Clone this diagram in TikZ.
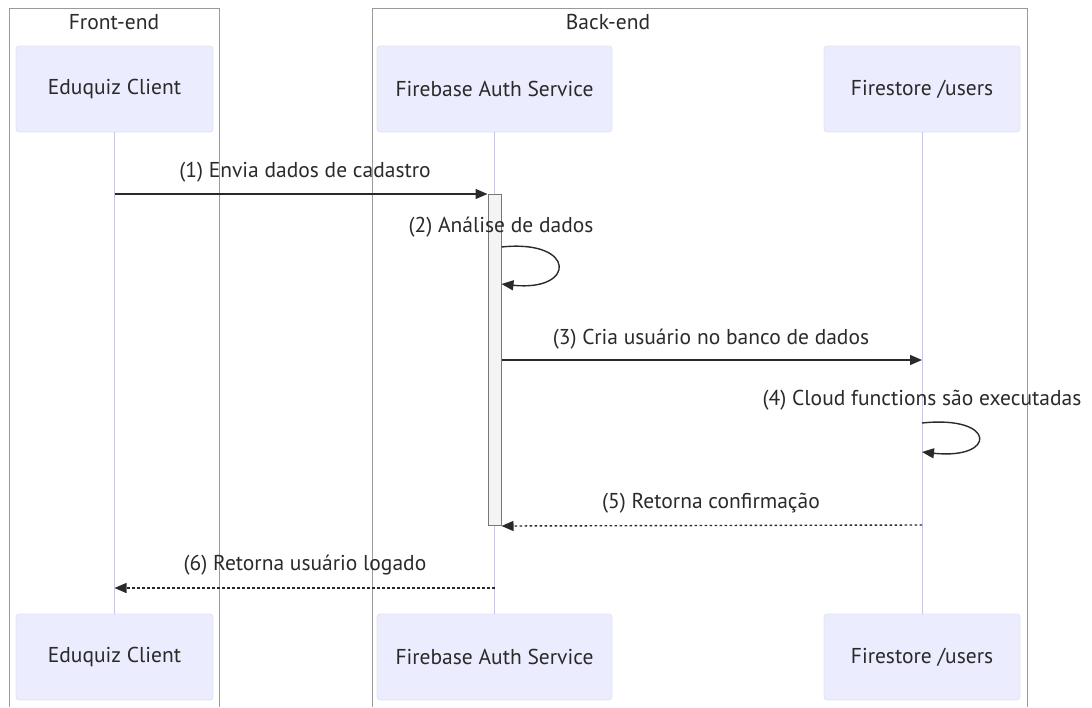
\documentclass[tikz,border=0pt]{standalone}
\usepackage{fontspec}
\setmainfont{PT Sans}
\usetikzlibrary{arrows.meta}
\definecolor{actfill}{HTML}{ECECFF}
\definecolor{actdraw}{HTML}{E2E2F6}
\definecolor{lifec}{HTML}{C8C8E4}
\definecolor{txt}{HTML}{2A2A2A}
\definecolor{framec}{HTML}{9A9A9A}
\definecolor{barfill}{HTML}{F4F4F4}
\definecolor{bardraw}{HTML}{777777}
\tikzset{
  actor/.style={draw=actdraw, fill=actfill, rounded corners=3pt, line width=0.8pt, inner sep=0pt, text=txt},
  lifeline/.style={draw=lifec, line width=1pt},
  frame/.style={draw=framec, line width=1pt},
  msg/.style={draw=txt, line width=1.4pt, -{Triangle[length=12pt,width=10pt]}},
  reply/.style={msg, dash pattern=on 2.5pt off 2.5pt},
  lbl/.style={text=txt, inner sep=0pt},
  actbar/.style={draw=bardraw, fill=barfill, line width=1pt}
}
\begin{document}
\begin{tikzpicture}[x=1pt,y=-1pt, font=\fontsize{21.5}{24}\selectfont]
\useasboundingbox (0,0) rectangle (1092,707);
% frames
\draw[frame] (9,707) -- (9,8) -- (219,8) -- (219,707);
\draw[frame] (372,707) -- (372,8) -- (1027,8) -- (1027,707);
\node[lbl] (tfront) at (114,22) {Front-end};
\node[lbl] (tback) at (608,22) {Back-end};
% actors top
\node[actor, minimum width=197pt, minimum height=86pt] (ec) at (114.5,89) {Eduquiz Client};
\node[actor, minimum width=235pt, minimum height=86pt] (fa) at (494.5,89) {Firebase Auth Service};
\node[actor, minimum width=196pt, minimum height=86pt] (fs) at (922,89) {Firestore /users};
% actors bottom
\node[actor, minimum width=197pt, minimum height=86pt] (ec2) at (114.5,657) {Eduquiz Client};
\node[actor, minimum width=235pt, minimum height=86pt] (fa2) at (494.5,657) {Firebase Auth Service};
\node[actor, minimum width=196pt, minimum height=86pt] (fs2) at (922,657) {Firestore /users};
% lifelines
\draw[lifeline] (ec.south) -- (ec2.north);
\draw[lifeline] (fa.south) -- (fa2.north);
\draw[lifeline] (fs.south) -- (fs2.north);
% activation bar
\node[actbar, minimum width=13pt, minimum height=331pt, inner sep=0pt, anchor=north] (bar) at (494.5,194) {};
% coordinates
\coordinate (m1s) at (ec.south |- 0,194);
\coordinate (m1e) at (bar.north west);
\coordinate (m2s) at (bar.east |- 0,247);
\coordinate (m2e) at (bar.east |- 0,284);
\coordinate (m3s) at (bar.east |- 0,360);
\coordinate (m3e) at (fs.south |- 0,360);
\coordinate (m4s) at (fs.south |- 0,423);
\coordinate (m4e) at (fs.south |- 0,452);
\coordinate (m5s) at (fs.south |- 0,525);
\coordinate (m5e) at (bar.south east);
\coordinate (m6s) at (fa.south |- 0,588);
\coordinate (m6e) at (ec.south |- 0,588);
% messages
\draw[msg] (m1s) -- (m1e);
\node[lbl] (l1) at (305,172) {(1) Envia dados de cadastro};
\draw[msg] (m2s) .. controls ++(75,-8) and ++(75,8) .. (m2e);
\node[lbl] (l2) at (501,227) {(2) Análise de dados};
\draw[msg] (m3s) -- (m3e);
\node[lbl] (l3) at (711,339) {(3) Cria usuário no banco de dados};
\draw[msg] (m4s) .. controls ++(75,-8) and ++(75,8) .. (m4e);
\node[lbl] (l4) at (922,400) {(4) Cloud functions são executadas};
\draw[reply] (m5s) -- (m5e);
\node[lbl] (l5) at (711,503) {(5) Retorna confirmação};
\draw[reply] (m6s) -- (m6e);
\node[lbl] (l6) at (305,565) {(6) Retorna usuário logado};
\end{tikzpicture}
\end{document}
